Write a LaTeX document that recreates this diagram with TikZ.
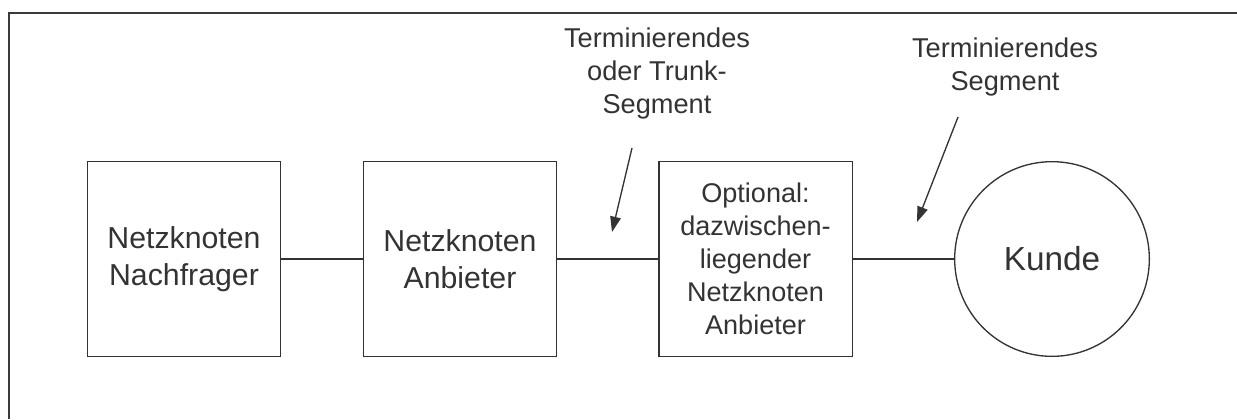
\documentclass[tikz,border=0pt]{standalone}
\usepackage{fontspec}
\setmainfont{Liberation Sans}
\usepackage{tikz}
\definecolor{ink}{HTML}{333333}
\definecolor{frame}{HTML}{3A3A3C}
\usetikzlibrary{arrows.meta}
\tikzset{
  >={Triangle[length=11.5pt, width=8pt]},
  every node/.style={text=ink},
  knot/.style={
    draw=ink,
    line width=1pt,
    align=center,
    minimum width=145pt,
    minimum height=146pt,
    inner sep=0pt,
    font=\fontsize{22.7}{27.5}\selectfont
  },
  knotS/.style={knot, font=\fontsize{20.3}{24.8}\selectfont},
  kunde/.style={
    draw=ink,
    circle,
    line width=1pt,
    minimum size=146pt,
    inner sep=0pt,
    font=\fontsize{25}{30}\selectfont
  },
  link/.style={line width=1pt, draw=ink},
  pointer/.style={->, line width=1pt, draw=ink},
  annot/.style={align=center, anchor=north, inner sep=0pt,
    font=\fontsize{20.4}{24.6}\selectfont}
}

\begin{document}
\begin{tikzpicture}[x=0.75pt, y=-0.75pt]
  \useasboundingbox (0,0) rectangle (1237,419);

  % Frame (top and left only)
  \draw[frame, line width=1.6pt] (9,419) -- (9,13) -- (1237,13);

  % Network nodes
  \node[knot] (nachfrager) at (184,259) {Netzknoten\\Nachfrager};
  \node[knot] (anbieter) at (460,259) {Netzknoten\\Anbieter};
  \node[knotS] (zwischen) at (755.5,259) {Optional:\\dazwischen-\\liegender\\Netzknoten\\Anbieter};
  \node[kunde] (kunde) at (1052,259) {Kunde};

  % Segments
  \draw[link] (nachfrager) -- (anbieter);
  \draw[link] (anbieter) -- (zwischen);
  \draw[link] (zwischen) -- (kunde);

  % Annotations
  \node[annot] (trunk) at (657,28) {Terminierendes\\oder Trunk-\\Segment};
  \node[annot] (term) at (1005,38) {Terminierendes\\Segment};
  \coordinate (trunkA) at (632,148);
  \coordinate (trunkB) at (612,232);
  \coordinate (termA) at (958,117);
  \coordinate (termB) at (917,222);
  \draw[pointer] (trunkA) -- (trunkB);
  \draw[pointer] (termA) -- (termB);
\end{tikzpicture}
\end{document}
